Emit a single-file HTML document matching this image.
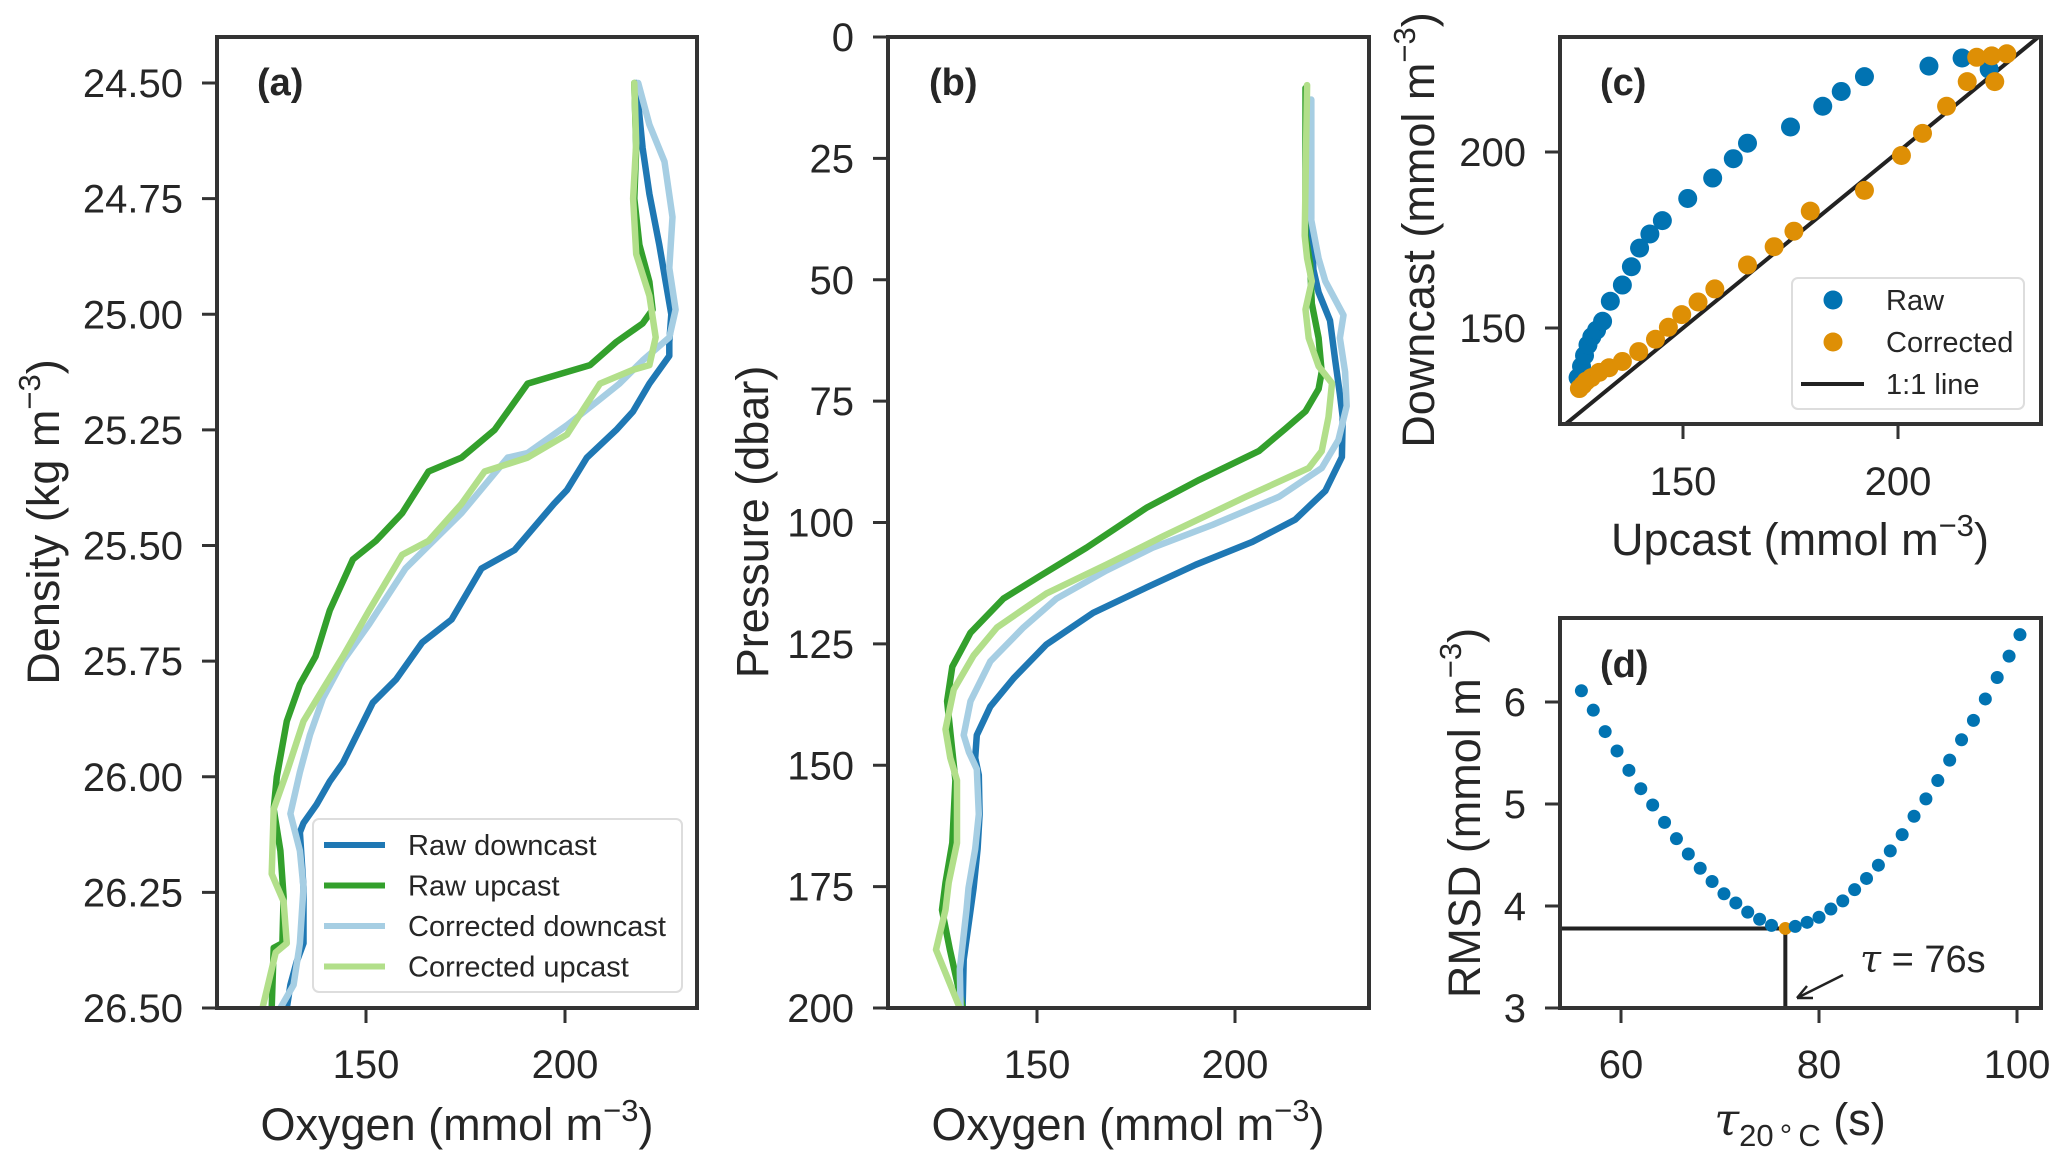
<!DOCTYPE html>
<html><head><meta charset="utf-8"><style>
html,body{margin:0;padding:0;background:#fff}
svg{display:block;font-family:"Liberation Sans","DejaVu Sans",sans-serif}
</style></head><body>
<svg id="fig" width="2067" height="1161" viewBox="0 0 2067 1161"></svg>
<script>
// ---- Panel (a) data: oxygen vs density ----
const aRawDownO=[217.9,219.5,221.2,223.7,225.3,226.7,226.2,226.2,221.2,217.1,212.9,205.5,200.5,197.2,187.3,179.0,171.5,164.1,157.5,151.7,144.2,140.9,137.6,134.3,133.4,134.3,134.3,132.6,131.0,130.1];
const aRawDownD=[24.50,24.64,24.74,24.85,24.93,25.00,25.06,25.09,25.15,25.21,25.25,25.31,25.38,25.41,25.51,25.55,25.66,25.71,25.79,25.84,25.97,26.01,26.06,26.10,26.12,26.24,26.36,26.40,26.45,26.50];
const aRawUpO=[217.4,217.9,217.4,218.7,221.2,222.0,219.5,212.9,206.3,190.6,182.3,174.0,165.7,159.1,152.5,146.7,140.9,137.3,133.4,130.1,127.6,126.8,128.5,129.3,129.0,126.8,126.3];
const aRawUpD=[24.50,24.64,24.75,24.85,24.93,24.99,25.02,25.06,25.11,25.15,25.25,25.31,25.34,25.43,25.49,25.53,25.64,25.74,25.80,25.88,26.00,26.07,26.16,26.26,26.36,26.37,26.50];
const aCorDownO=[218.4,221.2,225.0,227.0,226.2,227.8,226.2,219.5,213.7,207.9,200.5,190.6,185.6,174.0,159.9,150.8,144.2,139.2,135.9,133.4,131.0,133.4,134.3,133.4,131.8,128.5];
const aCorDownD=[24.50,24.59,24.67,24.79,24.90,24.99,25.05,25.10,25.15,25.19,25.24,25.30,25.31,25.43,25.55,25.67,25.75,25.83,25.91,25.99,26.08,26.16,26.24,26.36,26.45,26.50];
const aCorUpO=[217.4,217.9,217.1,217.9,221.2,222.8,221.2,217.1,208.8,200.5,190.6,179.8,174.0,165.7,159.1,150.8,144.2,139.2,134.3,130.1,126.8,126.3,129.3,130.1,127.3,124.0];
const aCorUpD=[24.50,24.63,24.75,24.87,24.96,25.05,25.11,25.12,25.15,25.26,25.31,25.34,25.41,25.49,25.52,25.64,25.74,25.81,25.88,25.99,26.07,26.21,26.27,26.36,26.38,26.50];
const aYTicks=[24.50,24.75,25.00,25.25,25.50,25.75,26.00,26.25,26.50];
const oxTicks=[150,200];
// ---- Panel (b) data: oxygen vs pressure ----
const bRawDownO=[219.2,219.2,219.8,221.1,224.0,225.3,226.5,227.2,227.0,222.8,215.2,204.4,190.1,177.6,164.2,152.4,144.1,138.2,134.8,134.4,135.3,135.5,135.0,134.0,131.5,131.2];
const bRawDownP=[12.9,37.4,47.9,52.6,58.4,66.6,73.6,78.3,86.5,93.5,99.4,104.0,108.7,113.4,118.6,125.1,132.1,137.9,143.8,148.5,152.0,160.1,167.2,175.3,190,200];
const bRawUpO=[217.8,217.8,219.0,219.4,221.1,221.9,221.1,217.8,212.7,206.0,191.0,177.6,162.5,150.8,141.5,133.2,128.6,127.3,129.4,128.6,126.9,126.0,128.0,131.3];
const bRawUpP=[10.5,40.9,46.8,54.9,62.0,69.0,72.5,77.1,80.7,85.3,91.2,97.0,105.2,111.0,115.7,122.7,129.7,136.8,153.1,166.0,174.2,179.8,188,200];
const bCorDownO=[219.2,219.2,221.1,222.8,227.4,226.5,227.8,228.2,226.1,221.9,211.1,194.3,179.2,167.5,154.9,146.6,138.2,133.2,131.5,132.8,134.8,135.3,134.4,132.7,132.2,130.5,130.7];
const bCorDownP=[12.9,37.4,45.6,50.3,57.3,62.0,69.0,76.0,83.0,88.8,94.7,100.5,105.2,109.9,115.7,121.6,128.6,136.8,143.8,147.3,150.8,160.1,167.2,175.3,179.8,192,200];
const bCorUpO=[218.2,217.6,218.2,219.4,217.8,218.6,221.1,224.5,223.6,221.9,218.6,202.7,181.7,167.5,152.4,139.9,134.0,129.0,126.9,128.1,129.8,129.8,127.7,126.9,124.5,130.5];
const bCorUpP=[9.9,40.9,45.6,50.3,56.1,62.0,67.8,71.3,78.3,85.3,88.8,94.7,102.9,108.7,114.6,121.6,127.4,134.4,142.6,148.5,153.1,166.0,174.2,179.8,188,200];
const bYTicks=[0,25,50,75,100,125,150,175,200];
// ---- Panel (c) data: upcast vs downcast ----
const cRawUp=[125.6,126.4,127.1,127.9,128.8,129.9,131.3,133.1,135.9,138.0,139.9,142.3,145.2,151.1,156.9,161.7,165.0,175.0,182.5,186.8,192.2,207.2,214.9,221.2];
const cRawDown=[135.9,139.1,142.2,145.2,147.5,149.4,151.9,157.6,162.2,167.4,172.7,176.7,180.5,186.8,192.6,198.1,202.5,207.1,213.0,217.2,221.4,224.4,226.7,223.5];
const cCorUp=[125.9,126.7,127.5,128.7,130.5,132.8,135.9,139.7,143.6,146.6,149.7,153.5,157.4,165.0,171.2,175.8,179.6,192.2,200.8,205.7,211.3,216.1,218.3,222.5,221.8,225.3];
const cCorDown=[132.8,133.8,134.9,135.9,137.4,138.7,140.5,143.3,146.8,150.2,153.8,157.4,161.1,167.9,173.1,177.5,183.2,189.1,199.0,205.3,213.0,220.0,226.9,220.0,227.3,227.9];
const cXTicks=[150,200];
const cYTicks=[150,200];
// ---- Panel (d) data: tau vs RMSD ----
const dTau=[56.0,57.2,58.4,59.6,60.8,62.0,63.2,64.4,65.6,66.8,68.0,69.2,70.4,71.6,72.8,74.0,75.2,76.6,77.6,78.8,80.0,81.2,82.4,83.6,84.8,86.0,87.2,88.4,89.6,90.8,92.0,93.2,94.4,95.6,96.8,98.0,99.2,100.3];
const dRmsd=[6.11,5.92,5.71,5.52,5.33,5.15,4.99,4.82,4.66,4.51,4.37,4.24,4.12,4.03,3.94,3.87,3.81,3.78,3.80,3.84,3.89,3.97,4.05,4.16,4.27,4.40,4.54,4.70,4.88,5.05,5.23,5.43,5.63,5.82,6.03,6.24,6.45,6.66];
const dXTicks=[60,80,100];
const dYTicks=[3,4,5,6];

const NS="http://www.w3.org/2000/svg";
const svg=document.getElementById('fig');
const TXT='#262626';
const TICKFS=40, LABFS=45;
function mk(tag,attrs,parent){const e=document.createElementNS(NS,tag);for(const k in attrs)e.setAttribute(k,attrs[k]);(parent||svg).appendChild(e);return e;}
function lin(d0,d1,p0,p1){return v=>p0+(v-d0)*(p1-p0)/(d1-d0);}

function axesBox(g,L,R,T,B,name){
  const r=mk('rect',{x:L,y:T,width:R-L,height:B-T,fill:'none',stroke:'#333',"stroke-width":4},g);
  
  
}
function xticks(g,vals,sx,B,fmt,ty,name){
  vals.forEach(v=>{
    const t=mk('line',{x1:sx(v),x2:sx(v),y1:B,y2:B+15,stroke:'#333',"stroke-width":3},g);
    
    
    const l=mk('text',{x:sx(v),y:ty,"text-anchor":"middle","font-size":TICKFS,fill:TXT},g);
    l.textContent=fmt(v);
    
    
  });
}
function yticks(g,vals,sy,L,fmt,name){
  vals.forEach(v=>{
    const t=mk('line',{x1:L-15,x2:L,y1:sy(v),y2:sy(v),stroke:'#333',"stroke-width":3},g);
    
    
    const l=mk('text',{x:L-34,y:sy(v)+14,"text-anchor":"end","font-size":TICKFS,fill:TXT},g);
    l.textContent=fmt(v);
    
    
  });
}
function unitLabel(g,x,y,pre,rot,name){
  const t=mk('text',{x:x,y:y,"text-anchor":"middle","font-size":LABFS,fill:TXT},g);
  if(rot)t.setAttribute('transform','rotate(-90 '+x+' '+y+')');
  
  
  const a=mk('tspan',{},t);a.textContent=pre+' (mmol m';
  const b=mk('tspan',{dy:-19,"font-size":31},t);b.textContent='\u22123';
  const c=mk('tspan',{dy:19},t);c.textContent=')';
  return t;
}
function panelLabel(g,x,y,s,name){
  const t=mk('text',{x:x,y:y,"font-size":38,"font-weight":"bold",fill:TXT},g);
  t.textContent=s;
  
  
}
function polyl(g,xs,ys,sx,sy,color,name){
  const pts=xs.map((v,i)=>sx(v).toFixed(1)+','+sy(ys[i]).toFixed(1)).join(' ');
  const p=mk('polyline',{points:pts,fill:'none',stroke:color,"stroke-width":6.5,"stroke-linejoin":"round","stroke-linecap":"round"},g);
  
  
}
const C1='#1f78b4',C2='#33a02c',C3='#a6cee3',C4='#b2df8a';

// ---------- Panel a ----------
{
  const g=mk('g',{});
  
  
  const L=217,R=697,T=37,B=1008;
  const sx=lin(150,200,366,565), sy=lin(24.5,26.5,83,1008);
  const cp=mk('clipPath',{id:'ca'},g);mk('rect',{x:L,y:T,width:R-L,height:B-T},cp);
  const lg=mk('g',{"clip-path":"url(#ca)"},g);
  polyl(lg,aRawDownO,aRawDownD,sx,sy,C1,'line-raw-downcast-a');
  polyl(lg,aRawUpO,aRawUpD,sx,sy,C2,'line-raw-upcast-a');
  polyl(lg,aCorDownO,aCorDownD,sx,sy,C3,'line-corrected-downcast-a');
  polyl(lg,aCorUpO,aCorUpD,sx,sy,C4,'line-corrected-upcast-a');
  axesBox(g,L,R,T,B,'panel-a');
  xticks(g,oxTicks,sx,B,v=>String(v),1078,'panel-a');
  yticks(g,aYTicks,sy,L,v=>v.toFixed(2),'panel-a');
  unitLabel(g,457,1140,'Oxygen',false,'x-axis-title-a');
  const yl=mk('text',{x:0,y:0,"text-anchor":"middle","font-size":LABFS,fill:TXT,transform:'translate(59 522) rotate(-90)'},g);
  
  
  mk('tspan',{},yl).textContent='Density (kg m';
  mk('tspan',{dy:-19,"font-size":31},yl).textContent='\u22123';
  mk('tspan',{dy:19},yl).textContent=')';
  panelLabel(g,257,95,'(a)','panel-label-a');
  const lgd=mk('g',{},g);
  
  
  mk('rect',{x:313,y:819,width:369,height:173,rx:6,fill:'#fff',stroke:'#ddd',"stroke-width":2},lgd);
  const names=['Raw downcast','Raw upcast','Corrected downcast','Corrected upcast'];
  const cols=[C1,C2,C3,C4];
  names.forEach((n,i)=>{
    const y=845+i*40.5;
    const ln=mk('line',{x1:324,x2:385,y1:y,y2:y,stroke:cols[i],"stroke-width":6},lgd);
    
    
    const t=mk('text',{x:408,y:y+10,"font-size":29,fill:TXT},lgd);
    t.textContent=n;
    
    
  });
}
// ---------- Panel b ----------
{
  const g=mk('g',{});
  
  
  const L=888,R=1369,T=37,B=1008;
  const sx=lin(150,200,1037,1235), sy=lin(0,200,37,1008);
  const cp=mk('clipPath',{id:'cb'},g);mk('rect',{x:L,y:T,width:R-L,height:B-T},cp);
  const lg=mk('g',{"clip-path":"url(#cb)"},g);
  polyl(lg,bRawDownO,bRawDownP,sx,sy,C1,'line-raw-downcast-b');
  polyl(lg,bRawUpO,bRawUpP,sx,sy,C2,'line-raw-upcast-b');
  polyl(lg,bCorDownO,bCorDownP,sx,sy,C3,'line-corrected-downcast-b');
  polyl(lg,bCorUpO,bCorUpP,sx,sy,C4,'line-corrected-upcast-b');
  axesBox(g,L,R,T,B,'panel-b');
  xticks(g,oxTicks,sx,B,v=>String(v),1078,'panel-b');
  yticks(g,bYTicks,sy,L,v=>String(v),'panel-b');
  unitLabel(g,1128,1140,'Oxygen',false,'x-axis-title-b');
  const yl=mk('text',{x:0,y:0,"text-anchor":"middle","font-size":LABFS,fill:TXT,transform:'translate(768 522) rotate(-90)'},g);
  yl.textContent='Pressure (dbar)';
  
  
  panelLabel(g,929,95,'(b)','panel-label-b');
}
// ---------- Panel c ----------
{
  const g=mk('g',{});
  
  
  const L=1560,R=2041,T=37,B=424;
  const sx=lin(150,200,1683,1898), sy=lin(150,200,328,152);
  const cp=mk('clipPath',{id:'cc'},g);mk('rect',{x:L,y:T,width:R-L,height:B-T},cp);
  const lg=mk('g',{"clip-path":"url(#cc)"},g);
  const one=mk('line',{x1:sx(121),y1:sy(121),x2:sx(235),y2:sy(235),stroke:'#222',"stroke-width":4},lg);
  
  
  cRawUp.forEach((v,i)=>{
    const c=mk('circle',{cx:sx(v),cy:sy(cRawDown[i]),r:9.5,fill:'#0173b2'},lg);
    
    
  });
  cCorUp.forEach((v,i)=>{
    const c=mk('circle',{cx:sx(v),cy:sy(cCorDown[i]),r:9.5,fill:'#de8f05'},lg);
    
    
  });
  axesBox(g,L,R,T,B,'panel-c');
  xticks(g,cXTicks,sx,B,v=>String(v),495,'panel-c');
  yticks(g,cYTicks,sy,L,v=>String(v),'panel-c');
  unitLabel(g,1800,555,'Upcast',false,'x-axis-title-c');
  unitLabel(g,1434,230,'Downcast',true,'y-axis-title-c');
  panelLabel(g,1600,95,'(c)','panel-label-c');
  const lgd=mk('g',{},g);
  
  
  mk('rect',{x:1792,y:278,width:232,height:131,rx:6,fill:'#fff',stroke:'#ddd',"stroke-width":2},lgd);
  const e1=mk('circle',{cx:1833,cy:300,r:9.5,fill:'#0173b2'},lgd);
  
  
  const e2=mk('circle',{cx:1833,cy:342,r:9.5,fill:'#de8f05'},lgd);
  
  
  const e3=mk('line',{x1:1801,x2:1864,y1:384,y2:384,stroke:'#222',"stroke-width":4},lgd);
  
  
  [['Raw',310],['Corrected',352],['1:1 line',394]].forEach(([s,y])=>{
    const t=mk('text',{x:1886,y:y,"font-size":29,fill:TXT},lgd);
    t.textContent=s;
    
    
  });
}
// ---------- Panel d ----------
{
  const g=mk('g',{});
  
  
  const L=1560,R=2041,T=618,B=1008;
  const sx=lin(60,100,1621,2017), sy=lin(3,6,1008,702);
  let mi=0;dRmsd.forEach((v,i)=>{if(v<dRmsd[mi])mi=i;});
  const hx=sx(dTau[mi]), hy=sy(dRmsd[mi]);
  const h=mk('line',{x1:L,x2:hx,y1:hy,y2:hy,stroke:'#222',"stroke-width":4},g);
  
  
  const v=mk('line',{x1:hx,x2:hx,y1:hy,y2:B,stroke:'#222',"stroke-width":4},g);
  
  
  dTau.forEach((t,i)=>{
    const c=mk('circle',{cx:sx(t),cy:sy(dRmsd[i]),r:6.5,fill:i===mi?'#de8f05':'#0173b2'},g);
    
    
  });
  axesBox(g,L,R,T,B,'panel-d');
  xticks(g,dXTicks,sx,B,v=>String(v),1078,'panel-d');
  yticks(g,dYTicks,sy,L,v=>String(v),'panel-d');
  const xl=mk('text',{x:1800,y:1135,"text-anchor":"middle","font-size":LABFS,fill:TXT},g);
  
  
  mk('tspan',{"font-family":"DejaVu Serif, serif","font-style":"italic"},xl).textContent='\u03C4';
  mk('tspan',{dy:11,"font-size":31},xl).textContent='20\u2009\u00B0\u2009C';
  mk('tspan',{dy:-11},xl).textContent=' (s)';
  unitLabel(g,1480,813,'RMSD',true,'y-axis-title-d');
  panelLabel(g,1600,677,'(d)','panel-label-d');
  const an=mk('text',{x:1860,y:972,"font-size":38,fill:TXT},g);
  
  
  mk('tspan',{"font-family":"DejaVu Serif, serif","font-style":"italic"},an).textContent='\u03C4';
  mk('tspan',{},an).textContent=' =  76s';
  const ar=mk('path',{d:'M1843 975 L1797 998 M1797 998 L1813 998 M1797 998 L1807 986',fill:'none',stroke:'#222',"stroke-width":2.5},g);
  
  
}
</script>
</body></html>
